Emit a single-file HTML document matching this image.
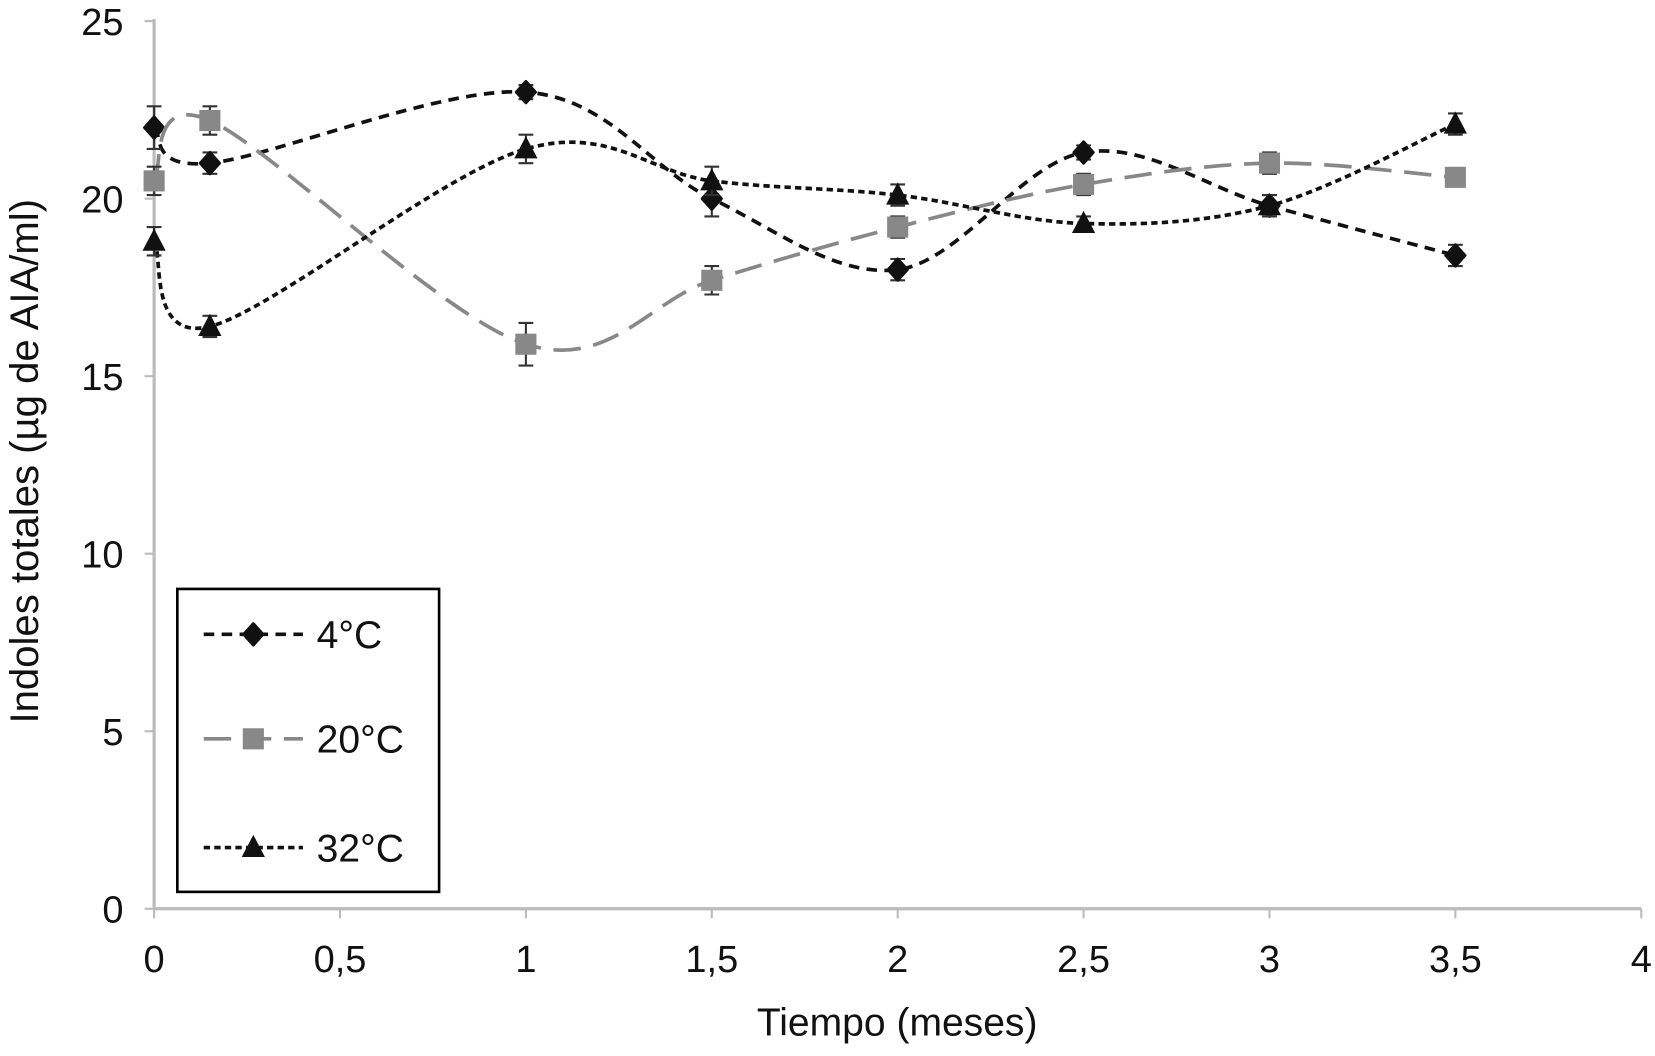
<!DOCTYPE html>
<html><head><meta charset="utf-8"><style>
html,body{margin:0;padding:0;background:#fff;}
svg{display:block;font-family:"Liberation Sans",sans-serif;}
</style></head><body>
<svg id="chart" width="1655" height="1056" viewBox="0 0 1568 1000.5" xmlns="http://www.w3.org/2000/svg">
<g id="axes"></g>
<g id="series"></g>
<text x="850" y="981" font-size="37" text-anchor="middle" fill="#111">Tiempo (meses)</text>
<text transform="translate(36,437) rotate(-90)" font-size="38" text-anchor="middle" fill="#111">Indoles totales (µg de AIA/ml)</text>
<g id="legend">
<rect x="168" y="558" width="248" height="287" fill="#fff" stroke="#000" stroke-width="2.5"/>
</g>
</svg>
<script>
const xs=[0,0.15,1,1.5,2,2.5,3,3.5];
const s4=[22.0,21.0,23.0,20.0,18.0,21.3,19.8,18.4];
const s20=[20.5,22.2,15.9,17.7,19.2,20.4,21.0,20.6];
const s32=[18.8,16.4,21.4,20.5,20.1,19.3,19.8,22.1];
const err4=[0.6,0.3,0.2,0.5,0.3,0.2,0.3,0.3];
const err20=[0.4,0.4,0.6,0.4,0.3,0.3,0.3,0.2];
const err32=[0.4,0.3,0.4,0.4,0.3,0.2,0.3,0.3];
const xTicks=["0","0,5","1","1,5","2","2,5","3","3,5","4"];
const yTicks=["0","5","10","15","20","25"];
const NS="http://www.w3.org/2000/svg";
const X=v=>146+v*352.25, Y=v=>861-v*33.64;
function mk(t,a,p){const e=document.createElementNS(NS,t);for(const k in a)e.setAttribute(k,a[k]);p.appendChild(e);return e;}
const ax=document.getElementById('axes');
let l=mk('line',{x1:146,y1:18,x2:146,y2:861,stroke:'#bbb','stroke-width':3},ax);


l=mk('line',{x1:146,y1:861,x2:1555,y2:861,stroke:'#bbb','stroke-width':3},ax);


xTicks.forEach((t,i)=>{const x=X(i*0.5);
mk('line',{x1:x,y1:861,x2:x,y2:870,stroke:'#bbb','stroke-width':2},ax);
const e=mk('text',{x:x,y:921,'font-size':36,'text-anchor':'middle',fill:'#111'},ax);e.textContent=t;

});
yTicks.forEach((t,i)=>{const y=Y(i*5);
mk('line',{x1:137,y1:y,x2:146,y2:y,stroke:'#bbb','stroke-width':2},ax);
const e=mk('text',{x:117,y:y+13,'font-size':36,'text-anchor':'end',fill:'#111'},ax);e.textContent=t;

});
function path(ys){const p=xs.map((x,i)=>[X(x),Y(ys[i])]);let d='M'+p[0][0]+','+p[0][1];
for(let i=0;i<p.length-1;i++){const p0=p[Math.max(0,i-1)],p1=p[i],p2=p[i+1],p3=p[Math.min(p.length-1,i+2)];
d+=' C'+(p1[0]+(p2[0]-p0[0])/6)+','+(p1[1]+(p2[1]-p0[1])/6)+' '+(p2[0]-(p3[0]-p1[0])/6)+','+(p2[1]-(p3[1]-p1[1])/6)+' '+p2[0]+','+p2[1];}return d;}
function marker(type,x,y,col,g){if(type==='d')return mk('path',{d:`M${x},${y-10} L${x+9},${y} L${x},${y+10} L${x-9},${y}Z`,fill:col,stroke:col,'stroke-width':3,'stroke-linejoin':'round'},g);
if(type==='s')return mk('rect',{x:x-10,y:y-10,width:20,height:20,fill:col},g);
return mk('path',{d:`M${x},${y-12} L${x+11},${y+9} L${x-11},${y+9}Z`,fill:col},g);}
const defs=[{n:'4c',ys:s4,er:err4,col:'#111',dash:'10,7',m:'d',label:'4°C',ly:601},
{n:'20c',ys:s20,er:err20,col:'#888',dash:'26,12',m:'s',label:'20°C',ly:700},
{n:'32c',ys:s32,er:err32,col:'#111',dash:'6,4',m:'t',label:'32°C',ly:803}];
const sg=document.getElementById('series'),lg=document.getElementById('legend');
defs.forEach(s=>{const g=mk('g',{},sg);


const p=mk('path',{d:path(s.ys),fill:'none',stroke:s.col,'stroke-width':3.5,'stroke-dasharray':s.dash},g);


xs.forEach((x,i)=>{const px=X(x),py=Y(s.ys[i]),e=s.er[i]*33.64;
mk('path',{d:`M${px},${py-e}V${py+e}M${px-7},${py-e}H${px+7}M${px-7},${py+e}H${px+7}`,stroke:'#333','stroke-width':2,fill:'none'},g);
const m=marker(s.m,px,py,s.col,g);

});
const le=mk('g',{},lg);


mk('line',{x1:193,y1:s.ly,x2:287,y2:s.ly,stroke:s.col,'stroke-width':3.5,'stroke-dasharray':s.dash},le);
marker(s.m,240,s.ly,s.col,le);
const t=mk('text',{x:300,y:s.ly+13,'font-size':37,fill:'#111'},le);t.textContent=s.label;});
</script>
</body></html>
